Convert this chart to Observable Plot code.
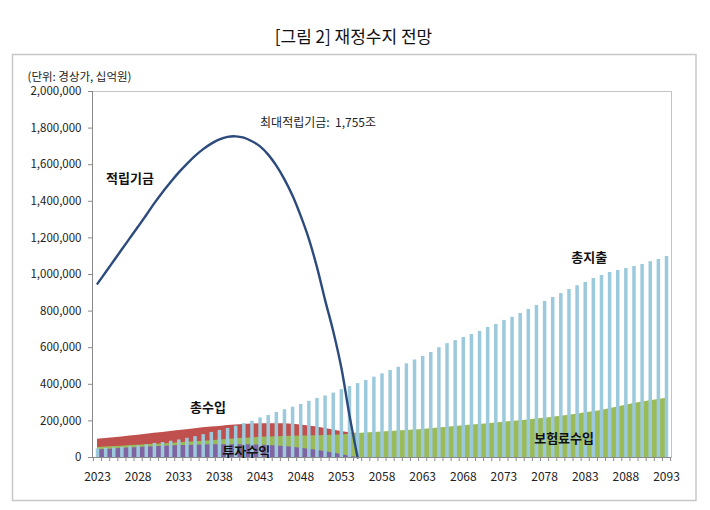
<!DOCTYPE html>
<html>
<head>
<meta charset="utf-8">
<script src="https://cdn.jsdelivr.net/npm/d3@7"></script>
<script src="https://cdn.jsdelivr.net/npm/@observablehq/plot@0.6"></script>
<style>
  html, body { margin: 0; padding: 0; background: #fff; }
  #chart { width: 710px; height: 510px; }
</style>
</head>
<body>
<div id="chart"></div>
<script>
// Categories (years)
const years = [2023,2024,2025,2026,2027,2028,2029,2030,2031,2032,2033,2034,2035,2036,2037,2038,2039,2040,2041,2042,2043,2044,2045,2046,2047,2048,2049,2050,2051,2052,2053,2054,2055,2056,2057,2058,2059,2060,2061,2062,2063,2064,2065,2066,2067,2068,2069,2070,2071,2072,2073,2074,2075,2076,2077,2078,2079,2080,2081,2082,2083,2084,2085,2086,2087,2088,2089,2090,2091,2092,2093];

// 총지출 (total expenditure), 십억원
const totalSpend = [47000,50000,52000,56000,59000,64000,70000,77000,82000,89000,96000,105000,114000,125000,137000,148000,159000,171000,185000,198000,216000,230000,246000,261000,275000,290000,307000,323000,336000,352000,371000,388000,404000,421000,439000,457000,475000,493000,512000,533000,552000,574000,600000,622000,639000,656000,672000,689000,710000,727000,749000,766000,787000,809000,831000,852000,874000,896000,918000,939000,957000,978000,995000,1011000,1022000,1033000,1044000,1055000,1070000,1082000,1098000];

// 보험료수입 (contribution income), 2023-2093
const contribIncome = [54000,57000,60000,62000,65000,67000,70000,72000,74000,77000,80000,83000,86000,89000,92000,95000,99000,102000,105000,107000,110000,112000,113000,115000,116000,117000,118000,119000,120000,121000,123000,127000,131000,134000,137000,140000,142000,145000,147000,150000,153000,157000,161000,165000,169000,173000,177000,181000,185000,189000,193000,197000,201000,205000,210000,215000,220000,225000,231000,237000,244000,250000,257000,266000,276000,286000,295000,303000,310000,317000,324000];

// 총수입 (total income), 2023-2055
const totalIncome = [100000,104000,108000,112000,117000,122000,127000,132000,137000,142000,147000,152000,157000,162000,166000,170000,175000,178000,181000,183000,185000,185000,185000,184000,182000,178000,172000,166000,159000,150000,142000,135000,131000];

// 투자수익 (investment income), 2023-2055
const investIncome = [42000,44000,47000,50000,52000,55000,57000,59000,61000,63000,65000,66000,67000,68000,69000,70000,70000,70000,70000,69000,68000,66000,63000,60000,56000,51000,45000,39000,32000,24000,16000,7000,0];

// 적립기금 (reserve fund), 2023-2055
const reserveFund = [950000,1012000,1075000,1138000,1200000,1262000,1325000,1390000,1450000,1505000,1558000,1605000,1648000,1685000,1715000,1738000,1752000,1755000,1748000,1728000,1700000,1655000,1595000,1520000,1430000,1320000,1195000,1040000,860000,690000,490000,230000,0];

// Axis ticks
const yTicks = [0,200000,400000,600000,800000,1000000,1200000,1400000,1600000,1800000,2000000];
const xLabelYears = [2023,2028,2033,2038,2043,2048,2053,2058,2063,2068,2073,2078,2083,2088,2093];
const xTickBounds = [2022.5,2023.5,2024.5,2025.5,2026.5,2027.5,2028.5,2029.5,2030.5,2031.5,2032.5,2033.5,2034.5,2035.5,2036.5,2037.5,2038.5,2039.5,2040.5,2041.5,2042.5,2043.5,2044.5,2045.5,2046.5,2047.5,2048.5,2049.5,2050.5,2051.5,2052.5,2053.5,2054.5,2055.5,2056.5,2057.5,2058.5,2059.5,2060.5,2061.5,2062.5,2063.5,2064.5,2065.5,2066.5,2067.5,2068.5,2069.5,2070.5,2071.5,2072.5,2073.5,2074.5,2075.5,2076.5,2077.5,2078.5,2079.5,2080.5,2081.5,2082.5,2083.5,2084.5,2085.5,2086.5,2087.5,2088.5,2089.5,2090.5,2091.5,2092.5,2093.5];

// Annotation labels (anchored in data space)
const boldLabels = [
  {text: "적립기금", year: 2027, value: 1525000},
  {text: "총지출", year: 2083.5, value: 1093000},
  {text: "총수입", year: 2036.6, value: 273000},
  {text: "투자수익", year: 2041.3, value: 33000},
  {text: "보험료수입", year: 2080.4, value: 104000}
];
const peakLabel = [{text: "최대적립기금:  1,755조", year: 2043, value: 1825000}];

const table = (vals) => vals.map((v, i) => ({year: years[i], value: v}));

const FONT = "'Noto Sans CJK KR', 'Noto Sans', sans-serif";

const chart = Plot.plot({
  width: 710,
  height: 510,
  marginLeft: 92,
  marginRight: 39,
  marginTop: 91,
  marginBottom: 53,
  style: {fontFamily: FONT, fontSize: "11.5px", color: "#222", background: "#fff", overflow: "visible"},
  x: {type: "linear", domain: [2022.385, 2093.615], axis: null},
  y: {domain: [0, 2000000], axis: null},
  marks: [
    Plot.areaY(table(totalIncome), {x: "year", y: "value", fill: "#C0504D"}),
    Plot.areaY(table(contribIncome), {x: "year", y: "value", fill: "#9BBB59"}),
    Plot.areaY(table(investIncome), {x: "year", y: "value", fill: "#8064A2"}),
    Plot.ruleX(table(totalSpend), {x: "year", y1: 0, y2: "value", stroke: "#9CCADC", strokeWidth: 3.5}),
    Plot.line(table(reserveFund), {x: "year", y: "value", stroke: "#2C4A7C", strokeWidth: 2.4, curve: "catmull-rom"}),
    Plot.frame({stroke: "#c4c4c4"}),
    Plot.ruleX([2022.385], {stroke: "#8a8a8a"}),
    Plot.ruleY([0], {stroke: "#8a8a8a"}),
    Plot.axisY({ticks: yTicks, tickSize: 4, tickPadding: 7, tickFormat: d3.format(","), stroke: "#8a8a8a", fill: "#222", label: null, fontSize: 11.5}),
    Plot.axisX({ticks: xTickBounds, tickSize: 4, stroke: "#8a8a8a", fill: "none", label: null}),
    Plot.axisX({ticks: xLabelYears, tickSize: 0, tickPadding: 15, tickFormat: d => String(d), fill: "#222", label: null, fontSize: 12}),
    Plot.text(boldLabels, {x: "year", y: "value", text: "text", fontWeight: "bold", fontSize: 13, fill: "#111"}),
    Plot.text(peakLabel, {x: "year", y: "value", text: "text", textAnchor: "start", fontSize: 12, fill: "#222"}),
    Plot.text(["(단위: 경상가, 십억원)"], {frameAnchor: "top-left", dx: -65, dy: -19, textAnchor: "start", fontSize: 11.5, fill: "#222"}),
    Plot.text(["[그림 2] 재정수지 전망"], {frameAnchor: "top", dx: -28.5, dy: -61, fontSize: 17, fontWeight: 400, fill: "#111"})
  ]
});

// Outer chart-area border (drawn behind everything)
d3.select(chart).insert("rect", ":first-child")
  .attr("x", 12.5).attr("y", 54.5).attr("width", 683.5).attr("height", 446)
  .attr("fill", "none").attr("stroke", "#c8c8c8").attr("stroke-width", 1.5);

document.getElementById("chart").appendChild(chart);
</script>
</body>
</html>
